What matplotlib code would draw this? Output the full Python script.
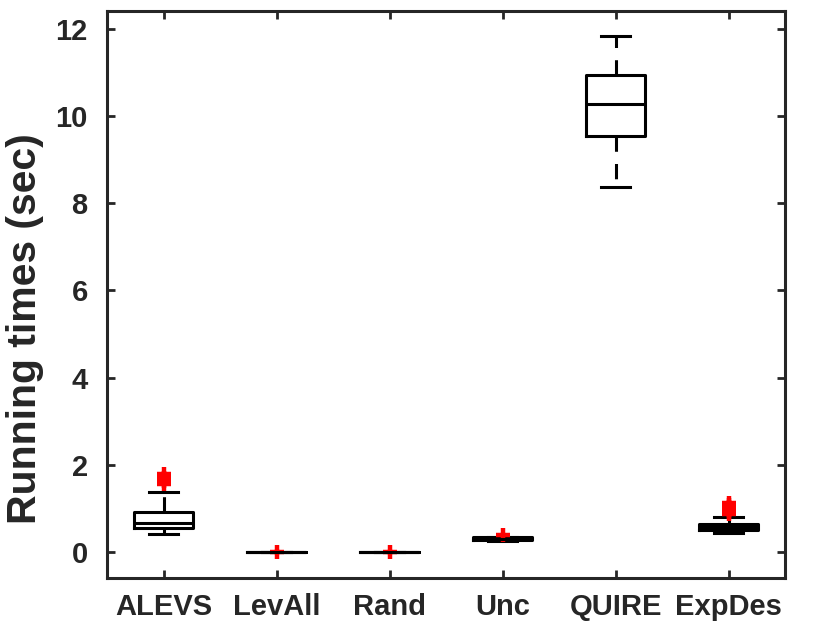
import matplotlib
matplotlib.use("Agg")
import matplotlib.pyplot as plt

methods = ["ALEVS", "LevAll", "Rand", "Unc", "QUIRE", "ExpDes"]
q1 = [0.55, 0.0, 0.0, 0.28, 9.54, 0.49]
med = [0.67, 0.0, 0.0, 0.30, 10.28, 0.57]
q3 = [0.92, 0.0, 0.0, 0.33, 10.94, 0.64]
wlo = [0.41, 0.0, 0.0, 0.25, 8.37, 0.42]
whi = [1.38, 0.0, 0.0, 0.35, 11.84, 0.80]
outliers = [
    [1.55, 1.62, 1.70, 1.78],
    [0.0],
    [0.0],
    [0.39],
    [],
    [0.86, 0.92, 0.97, 1.03, 1.08, 1.12],
]

stats = []
for i, name in enumerate(methods):
    stats.append({"label": name, "q1": q1[i], "med": med[i], "q3": q3[i],
                  "whislo": wlo[i], "whishi": whi[i], "fliers": outliers[i]})

plt.rcParams['font.family'] = ['Liberation Sans', 'DejaVu Sans']
plt.rcParams['font.weight'] = 'bold'

fig = plt.figure(figsize=(8.3, 6.4), dpi=100)
ax = fig.add_axes([0.129, 0.097, 0.817, 0.886])

ax.bxp(stats, positions=range(1, 7), widths=0.52, showfliers=True,
       boxprops=dict(color='black', linewidth=2.2),
       medianprops=dict(color='black', linewidth=2.2),
       whiskerprops=dict(color='black', linewidth=2.2, linestyle=(0, (5, 4))),
       capprops=dict(color='black', linewidth=2.2),
       capwidths=0.26,
       flierprops=dict(marker='+', markerfacecolor='red', markeredgecolor='red',
                       markersize=10, markeredgewidth=3.2, linestyle='none'))

ax.set_xlim(0.5, 6.5)
ax.set_ylim(-0.6, 12.42)
ax.set_yticks([0, 2, 4, 6, 8, 10, 12])
ax.set_xticks(range(1, 7))
ax.set_xticklabels(methods)
ax.set_ylabel("Running times (sec)", fontsize=29.5, fontweight='bold',
              color='#262626')
ax.yaxis.set_label_coords(-0.093, 0.44)

ax.tick_params(direction='in', length=6, width=2, colors='#262626',
               labelsize=21, top=True, right=True)
ax.tick_params(axis='x', pad=11)
ax.tick_params(axis='y', pad=14)
for lbl in ax.get_xticklabels() + ax.get_yticklabels():
    lbl.set_fontweight('bold')
for s in ax.spines.values():
    s.set_linewidth(2.2)
    s.set_color('#262626')

fig.savefig("out.png", dpi=100)
